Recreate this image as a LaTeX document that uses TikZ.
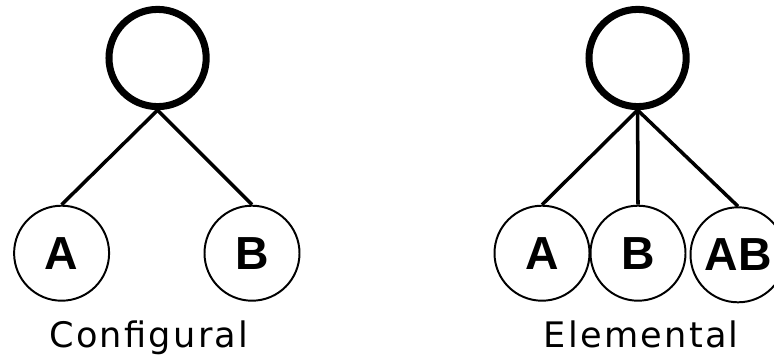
\documentclass[tikz,border=0pt]{standalone}
\usepackage{fontspec}
\setmainfont{Open Sans}
\newfontfamily\letterfont{Liberation Sans}
\newfontfamily\labelfont[LetterSpace=6.5]{DejaVu Sans}
\usepackage{tikz}

\begin{document}
\begin{tikzpicture}[
		root_style/.style={circle,draw=black,line width=5pt,minimum size=2.43cm,inner sep=0pt},
		leaf_style/.style={circle,draw=black,line width=1.4pt,fill=white,minimum size=2.375cm,inner sep=0pt,
			font=\letterfont\bfseries\fontsize{33}{33}\selectfont},
		edge_style/.style={draw=black,line width=2.5pt},
		label_style/.style={anchor=base,font=\labelfont\fontsize{25}{25}\selectfont}]

		\useasboundingbox (0,0) rectangle (19.35,9.05);

		% configural tree
		\node[root_style] (c0) at (3.94,7.6) {};
		\node[leaf_style] (ca) at (1.54,2.72) {A};
		\node[leaf_style] (cb) at (6.3,2.72) {B};

		\draw[edge_style]  (c0.south) -- (ca.north);
		\draw[edge_style]  (c0.south) -- (cb.north);

		\node[label_style] (cl) at (3.72,0.375) {Configural};

		% elemental tree
		\node[root_style] (e0) at (15.94,7.6) {};
		\node[leaf_style] (ea) at (13.55,2.72) {A};
		\node[leaf_style] (eb) at (15.95,2.72) {B};
		\node[leaf_style] (eab) at (18.45,2.68) {AB};

		\draw[edge_style]  (e0.south) -- (ea.north);
		\draw[edge_style]  (e0.south) -- (eb.north);
		\draw[edge_style]  (e0.south) -- (eab.north);

		\node[label_style] (el) at (16.03,0.375) {Elemental};

\end{tikzpicture}
\end{document}
